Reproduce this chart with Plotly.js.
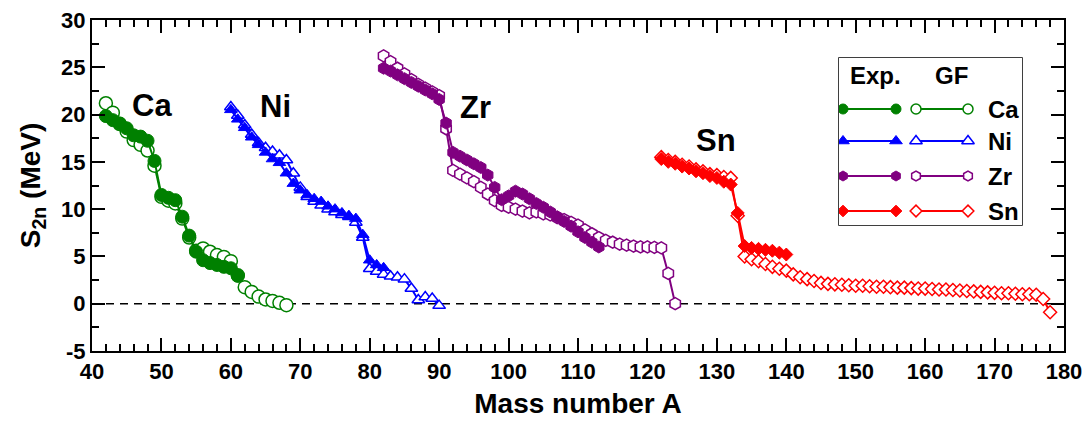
<!DOCTYPE html>
<html>
<head>
<meta charset="utf-8">
<script src="https://cdn.plot.ly/plotly-3.0.1.min.js"></script>
<style>html,body{margin:0;padding:0;background:#fff;}#chart{width:1086px;height:428px;}</style>
</head>
<body>
<div id="chart"></div>
<script>
// ---------- data (mass number A, S2n in MeV) ----------
const caExpA = [42,43,44,45,46,47,48,49,50,51,52,53,54,55,56,57,58,59,60,61];
const caExpS = [19.84,19.41,19.06,18.55,17.81,17.67,17.23,15.10,11.50,11.20,10.95,9.20,7.20,5.50,4.60,4.30,4.10,3.90,3.75,2.95];
const caGfA  = [42,43,44,45,46,47,48,49,50,51,52,53,54,55,56,57,58,59,60,61,62,63,64,65,66,67,68];
const caGfS  = [21.2,20.2,19.0,18.2,17.3,16.8,16.2,14.6,11.3,10.9,10.6,9.0,7.0,5.6,5.85,5.5,5.15,4.95,4.5,3.0,1.75,1.25,0.75,0.45,0.3,0.1,-0.15];

const niExpA = [60,61,62,63,64,65,66,67,68,69,70,71,72,73,74,75,76,77,78,79,80,81,82];
const niExpS = [20.5,19.5,18.6,17.6,16.8,16.0,15.3,14.9,13.8,12.7,12.0,11.5,11.1,10.8,10.3,10.0,9.6,9.3,9.0,7.3,4.6,4.1,3.8];
const niGfA  = [60,61,62,63,64,65,66,67,68,69,70,71,72,73,74,75,76,77,78,79,80,81,82,83,84,85,86,87,88,89,90];
const niGfS  = [20.8,19.9,18.9,17.9,17.0,16.5,16.1,15.7,15.2,13.8,12.3,11.3,10.8,10.4,10.0,9.7,9.4,9.2,8.6,7.0,3.7,3.4,3.1,2.9,2.8,2.6,1.6,0.4,0.7,0.55,-0.2];

const zrExpA = [82,83,84,85,86,87,88,89,90,91,92,93,94,95,96,97,98,99,100,101,102,103,104,105,106,107,108,109,110,111,112,113];
const zrExpS = [24.9,24.6,24.2,23.8,23.4,23.0,22.6,22.2,21.6,19.1,16.0,15.6,15.2,14.8,14.4,13.6,12.3,11.0,11.4,11.9,11.6,11.1,10.6,10.2,9.7,9.2,8.7,8.2,7.6,7.0,6.5,6.0];
const zrGfA  = [82,83,84,85,86,87,88,89,90,91,92,93,94,95,96,97,98,99,100,101,102,103,104,105,106,107,108,109,110,111,112,113,114,115,116,117,118,119,120,121,122,123,124];
const zrGfS  = [26.2,25.6,24.9,24.3,23.7,23.2,22.8,22.4,22.0,18.5,14.1,13.7,13.3,12.9,12.3,11.6,10.9,10.4,10.2,10.0,9.8,9.6,9.7,9.5,9.4,9.1,8.9,8.6,8.3,7.8,7.4,7.0,6.7,6.5,6.3,6.2,6.1,6.0,6.0,5.95,5.9,3.2,0.0];

const snExpA = [122,123,124,125,126,127,128,129,130,131,132,133,134,135,136,137,138,139,140];
const snExpS = [15.3,15.0,14.8,14.5,14.3,14.0,13.8,13.5,13.3,12.9,12.6,9.6,6.1,5.9,5.8,5.7,5.6,5.4,5.2];
const snGfA  = [122,123,124,125,126,127,128,129,130,131,132,133,134,135,136,137,138,139,140,141,142,143,144,145,146,147,148,149,150,151,152,153,154,155,156,157,158,159,160,161,162,163,164,165,166,167,168,169,170,171,172,173,174,175,176,177,178];
const snGfS  = [15.5,15.2,15.0,14.7,14.5,14.2,14.0,13.7,13.6,13.4,13.3,9.3,5.0,4.7,4.5,4.2,3.9,3.7,3.5,3.1,2.8,2.6,2.4,2.2,2.1,2.05,2.0,1.95,1.9,1.9,1.85,1.8,1.8,1.75,1.7,1.7,1.65,1.6,1.6,1.55,1.5,1.5,1.45,1.4,1.35,1.3,1.25,1.2,1.15,1.1,1.1,1.05,1.0,1.0,0.95,0.5,-0.9];

const elements = ['Ca','Ni','Zr','Sn'];
const labelA = [48.6, 66.5, 95.2, 129.9];
const labelS = [21.0, 20.9, 20.8, 17.3];

const yTickVals = [-5,0,5,10,15,20,25,30];
const yTickText = ['-5','0','5','10','15','20','25','30'];
const xTickVals = [40,50,60,70,80,90,100,110,120,130,140,150,160,170,180];
const xTickText = ['40','50','60','70','80','90','100','110','120','130','140','150','160','170','180'];

// ---------- styles ----------
const FONT = 'Liberation Sans, Arial, Helvetica, sans-serif';
const colors  = {Ca:'#008000', Ni:'#0000FF', Zr:'#800080', Sn:'#FF0000'};
const symbols = {Ca:'circle', Ni:'triangle-up', Zr:'hexagon', Sn:'diamond'};
const sizes   = {Ca:13, Ni:11, Zr:12, Sn:10};
const legSizes= {Ca:10, Ni:11, Zr:10, Sn:9};
const series = {
  Ca:{eA:caExpA,eS:caExpS,gA:caGfA,gS:caGfS},
  Ni:{eA:niExpA,eS:niExpS,gA:niGfA,gS:niGfS},
  Zr:{eA:zrExpA,eS:zrExpS,gA:zrGfA,gS:zrGfS},
  Sn:{eA:snExpA,eS:snExpS,gA:snGfA,gS:snGfS}
};

const traces = [];
elements.forEach(el => {
  const c = colors[el], s = series[el];
  traces.push({x:s.gA, y:s.gS, mode:'lines+markers', type:'scatter', showlegend:false, hoverinfo:'skip',
    line:{color:c, width:2},
    marker:{symbol:symbols[el], size:sizes[el], color:'#ffffff', line:{color:c, width:1.5}}});
});
elements.forEach(el => {
  const c = colors[el], s = series[el];
  traces.push({x:s.eA, y:s.eS, mode:'lines+markers', type:'scatter', showlegend:false, hoverinfo:'skip',
    line:{color:c, width:2},
    marker:{symbol:symbols[el], size:sizes[el], color:c, line:{color:c, width:1}}});
});

// ---------- hand-built legend (layout positions on an overlay axis in pixel-like units) ----------
const legBox = {x0:839, x1:1022, y0:58, y1:225};
const legRowY = [109, 141, 176, 211];
const legExpX = [843, 896], legGfX = [916, 968], legTextX = 986;
elements.forEach((el, i) => {
  const c = colors[el];
  traces.push({x:legExpX, y:[legRowY[i],legRowY[i]], xaxis:'x2', yaxis:'y2', mode:'lines+markers', showlegend:false, hoverinfo:'skip',
    line:{color:c,width:2}, marker:{symbol:symbols[el], size:legSizes[el], color:c, line:{color:c,width:1}}});
  traces.push({x:legGfX, y:[legRowY[i],legRowY[i]], xaxis:'x2', yaxis:'y2', mode:'lines+markers', showlegend:false, hoverinfo:'skip',
    line:{color:c,width:2}, marker:{symbol:symbols[el], size:legSizes[el], color:'#ffffff', line:{color:c,width:1.5}}});
});

const W = 1086, H = 428, ML = 92, MR = 22, MT = 20, MB = 77;
const pw = W - ML - MR, ph = H - MT - MB;
const px2paper = x => (x - ML) / pw;
const py2paper = y => (H - MB - y) / ph;

const annotations = [];
elements.forEach((el, i) => {
  annotations.push({x:labelA[i], y:labelS[i], xref:'x', yref:'y', text:el, showarrow:false,
    font:{family:FONT, size:31, color:'#000', weight:'bold'}, xanchor:'center', yanchor:'middle'});
  annotations.push({x:legTextX, y:legRowY[i], xref:'x2', yref:'y2', text:el, showarrow:false,
    font:{family:FONT, size:24, color:'#000', weight:'bold'}, xanchor:'left', yanchor:'middle'});
});
annotations.push({x:875, y:75, xref:'x2', yref:'y2', text:'Exp.', showarrow:false,
  font:{family:FONT, size:24, color:'#000', weight:'bold'}, xanchor:'center', yanchor:'middle'});
annotations.push({x:951, y:75, xref:'x2', yref:'y2', text:'GF', showarrow:false,
  font:{family:FONT, size:24, color:'#000', weight:'bold'}, xanchor:'center', yanchor:'middle'});

const axisCommon = {
  showline:true, linewidth:2, linecolor:'#000', mirror:'allticks',
  ticks:'inside', ticklen:13, tickwidth:2, tickcolor:'#000',
  showgrid:false, zeroline:false,
  tickfont:{family:FONT, size:22, color:'#000', weight:'bold'}
};

const layout = {
  width:W, height:H,
  margin:{l:ML, r:MR, t:MT, b:MB, pad:0},
  paper_bgcolor:'#fff', plot_bgcolor:'#fff',
  font:{family:FONT, color:'#000'},
  xaxis:Object.assign({}, axisCommon, {range:[40,180], tickmode:'array', tickvals:xTickVals, ticktext:xTickText,
    minor:{ticks:'inside', ticklen:7, tickwidth:2, tickcolor:'#000', tick0:40, dtick:2, showgrid:false},
    title:{text:'Mass number A', font:{family:FONT, size:28, color:'#000', weight:'bold'}, standoff:10}}),
  yaxis:Object.assign({}, axisCommon, {range:[-5,30], tickmode:'array', tickvals:yTickVals, ticktext:yTickText,
    minor:{ticks:'inside', ticklen:7, tickwidth:2, tickcolor:'#000', tick0:-5, dtick:2.5, showgrid:false},
    title:{text:'S<sub>2n</sub> (MeV)', font:{family:FONT, size:28, color:'#000', weight:'bold'}, standoff:12}}),
  xaxis2:{domain:[px2paper(legBox.x0), px2paper(legBox.x1)], range:[legBox.x0, legBox.x1], anchor:'y2', visible:false, fixedrange:true},
  yaxis2:{domain:[py2paper(legBox.y1), py2paper(legBox.y0)], range:[legBox.y1, legBox.y0], anchor:'x2', visible:false, fixedrange:true},
  shapes:[
    {type:'line', xref:'paper', yref:'y', x0:0, x1:1, y0:0, y1:0, line:{color:'#000', width:1.5, dash:'8px,6px'}, layer:'below'},
    {type:'rect', xref:'paper', yref:'paper', x0:px2paper(legBox.x0), x1:px2paper(legBox.x1), y0:py2paper(legBox.y1), y1:py2paper(legBox.y0),
      line:{color:'#000', width:1.5}, fillcolor:'#fff', layer:'below'}
  ],
  annotations:annotations,
  showlegend:false
};

Plotly.newPlot('chart', traces, layout, {displayModeBar:false, staticPlot:true});
</script>
</body>
</html>
